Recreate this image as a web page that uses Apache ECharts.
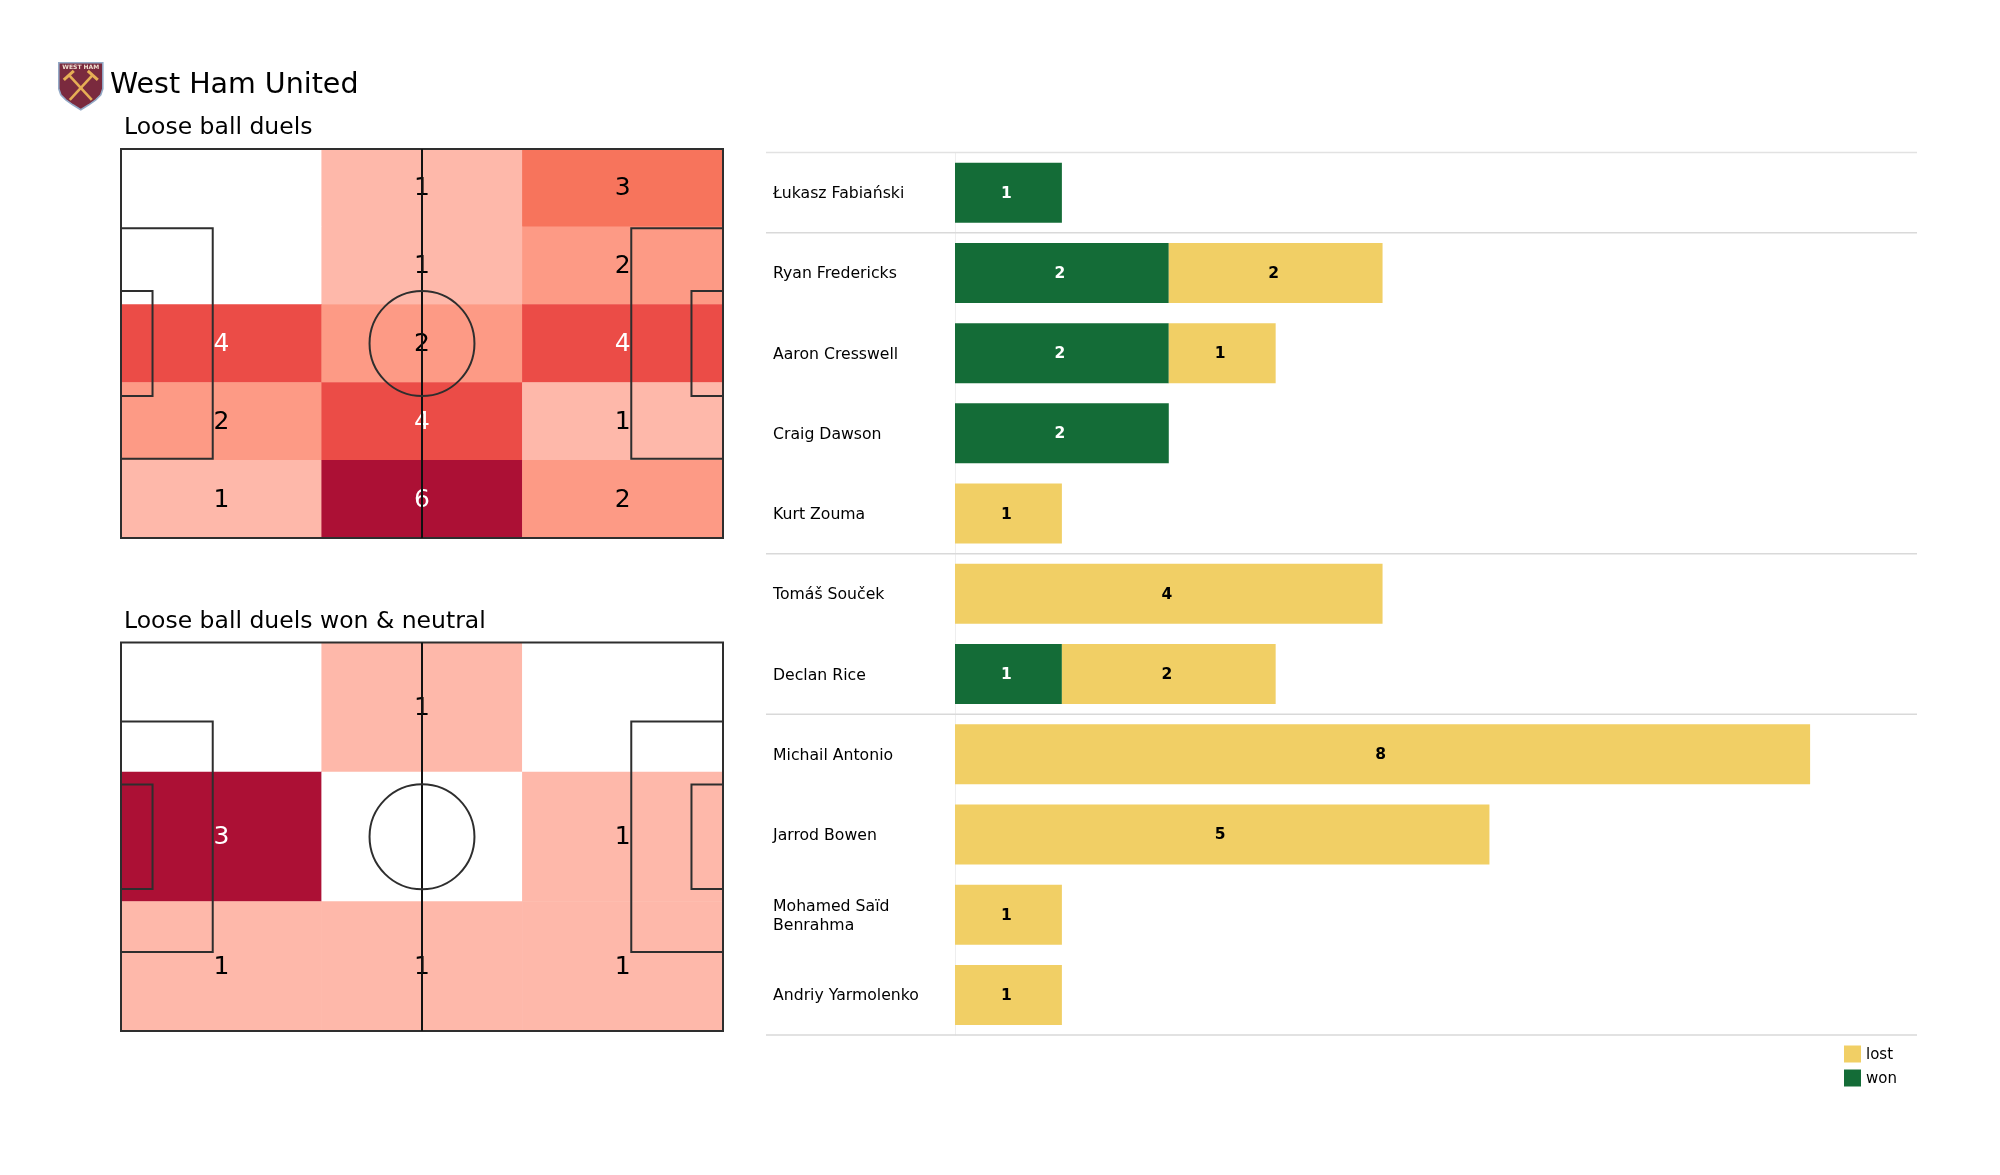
<!DOCTYPE html>
<html>
<head>
<meta charset="utf-8">
<style>html,body{margin:0;padding:0;background:#fff}#c{width:2000px;height:1175px}</style>
<script src="https://cdn.jsdelivr.net/npm/echarts@6/dist/echarts.min.js"></script>
</head>
<body>
<div id="c"></div>
<script>
const players = ['Łukasz Fabiański','Ryan Fredericks','Aaron Cresswell','Craig Dawson','Kurt Zouma','Tomáš Souček','Declan Rice','Michail Antonio','Jarrod Bowen','Mohamed Saïd\nBenrahma','Andriy Yarmolenko'];
const won  = [1,2,2,2,null,null,1,null,null,null,null];
const lost = [null,2,1,null,1,4,2,8,5,1,1];
const groupEnds = [0,4,6,10];

const duelsAll = [
  [0,1,3],
  [0,1,2],
  [4,2,4],
  [2,4,1],
  [1,6,2]
];
const duelsWon = [
  [0,1,0],
  [3,0,1],
  [1,1,1]
];
const paletteAll = {0:'#ffffff',1:'#feb8aa',2:'#fd9a85',3:'#f7745c',4:'#eb4c47',6:'#ac1035'};
const paletteWon = {0:'#ffffff',1:'#feb8aa',3:'#ac1035'};
const whiteLabelsAll = [4,6];
const whiteLabelsWon = [3];

const PITCH_W = 105, PITCH_H = 68;
const pitchRects = [
  [0,0,105,68],
  [0,13.84,16,54.16],
  [89,13.84,105,54.16],
  [0,24.84,5.5,43.16],
  [99.5,24.84,105,43.16]
];
const pitchSegments = [[52.5,0,52.5,68]];
const pitchCircles = [[52.5,34,9.15]];

const LINE = '#2e2e2e';
const FONT = '"DejaVu Sans"';

function heatData(rows, whites){
  const out = [];
  rows.forEach((r,ri)=>r.forEach((v,ci)=>{
    out.push({value:[ci,ri,v],label:{show:v>0,color:whites.includes(v)?'#ffffff':'#000000'}});
  }));
  return out;
}
function pieces(p){return Object.keys(p).map(k=>({value:+k,color:p[k]}));}
function heatSeries(g,rows,whites){
  return {type:'heatmap',xAxisIndex:g,yAxisIndex:g,data:heatData(rows,whites),z:2,
    label:{show:true,formatter:p=>p.value[2]>0?String(p.value[2]):'',fontFamily:FONT,fontSize:25,offset:[0,1]},
    emphasis:{disabled:true},itemStyle:{borderWidth:0}};
}
function pitchSeries(g){
  const items = [];
  pitchRects.forEach(r=>items.push(['rect',...r]));
  pitchSegments.forEach(s=>items.push(['seg',...s]));
  pitchCircles.forEach(c=>items.push(['circle',c[0],c[1],c[2],0]));
  const idx = items.map((_,i)=>[i]);
  return {type:'custom',xAxisIndex:g,yAxisIndex:g,data:idx,z:5,silent:true,clip:false,
    renderItem:(params,api)=>{
      const it = items[api.value(0)];
      const style = {stroke:LINE,fill:null,lineWidth:2};
      if(it[0]==='rect'){
        const a=api.coord([it[1],it[2]]),b=api.coord([it[3],it[4]]);
        return {type:'rect',shape:{x:Math.min(a[0],b[0]),y:Math.min(a[1],b[1]),width:Math.abs(b[0]-a[0]),height:Math.abs(b[1]-a[1])},style};
      }
      if(it[0]==='seg'){
        const a=api.coord([it[1],it[2]]),b=api.coord([it[3],it[4]]);
        return {type:'line',shape:{x1:a[0],y1:a[1],x2:b[0],y2:b[1]},style:{stroke:'#111',lineWidth:2}};
      }
      const c=api.coord([it[1],it[2]]),e=api.coord([it[1]+it[3],it[2]]);
      return {type:'circle',shape:{cx:c[0],cy:c[1],r:Math.abs(e[0]-c[0])},style};
    }};
}
const cat = n => Array.from({length:n},(_,i)=>String(i));
const hiddenCat = (g,n,inv)=>({type:'category',gridIndex:g,data:cat(n),show:false,inverse:!!inv});

const grids = [
  {left:121,top:149,width:602,height:389},
  {left:121,top:642.5,width:602,height:388.5},
  {left:121,top:149,width:602,height:389},
  {left:121,top:642.5,width:602,height:388.5},
  {left:955,top:152.6,width:962,height:882.4}
];
const labelStyle = {show:true,position:'inside',fontFamily:FONT,fontWeight:'bold',fontSize:15.5,offset:[-2,1]};

const crestHammer = (x1,y1,x2,y2)=>({type:'line',shape:{x1,y1,x2,y2},style:{stroke:'#e6ae55',lineWidth:2.6}});

const option = {
  animation:false,
  backgroundColor:'#ffffff',
  textStyle:{fontFamily:FONT},
  title:[
    {text:'West Ham United',left:110,top:71,textStyle:{fontFamily:FONT,fontSize:28.5,fontWeight:'normal',color:'#000'},padding:0},
    {text:'Loose ball duels',left:124,top:116,textStyle:{fontFamily:FONT,fontSize:23.5,fontWeight:'normal',color:'#000'},padding:0},
    {text:'Loose ball duels won & neutral',left:124,top:610,textStyle:{fontFamily:FONT,fontSize:23.5,fontWeight:'normal',color:'#000'},padding:0}
  ],
  grid:grids,
  xAxis:[
    hiddenCat(0,3),hiddenCat(1,3),
    {type:'value',gridIndex:2,min:0,max:PITCH_W,show:false},
    {type:'value',gridIndex:3,min:0,max:PITCH_W,show:false},
    {type:'value',gridIndex:4,min:0,max:9,show:false}
  ],
  yAxis:[
    hiddenCat(0,5,true),hiddenCat(1,3,true),
    {type:'value',gridIndex:2,min:0,max:PITCH_H,show:false,inverse:true},
    {type:'value',gridIndex:3,min:0,max:PITCH_H,show:false,inverse:true},
    {type:'category',gridIndex:4,data:players,inverse:true,
      axisTick:{show:false},
      axisLine:{show:true,lineStyle:{color:'#eeeeee',width:1}},
      axisLabel:{align:'left',margin:182,
        formatter:v=>v.split('\n').map(s=>'{a|'+s+'}').join('\n'),
        rich:{a:{fontFamily:FONT,fontSize:15.7,color:'#000',lineHeight:19,padding:[3,0,0,0]}}}}
  ],
  visualMap:[
    {type:'piecewise',show:false,seriesIndex:0,dimension:2,pieces:pieces(paletteAll)},
    {type:'piecewise',show:false,seriesIndex:1,dimension:2,pieces:pieces(paletteWon)}
  ],
  legend:{orient:'vertical',left:1844,top:1045,itemWidth:17,itemHeight:17,itemGap:6,padding:0,
    data:[{name:'lost',icon:'rect'},{name:'won',icon:'rect'}],
    formatter:'{a|{name}}',
    textStyle:{rich:{a:{fontFamily:FONT,fontSize:15,color:'#000',lineHeight:15,padding:[3,0,0,0]}}},selectedMode:false},
  series:[
    heatSeries(0,duelsAll,whiteLabelsAll),
    heatSeries(1,duelsWon,whiteLabelsWon),
    pitchSeries(2),
    pitchSeries(3),
    {type:'bar',name:'won',stack:'d',xAxisIndex:4,yAxisIndex:4,data:won,barWidth:60,
      itemStyle:{color:'#146c37'},label:{...labelStyle,color:'#ffffff'},emphasis:{disabled:true}},
    {type:'bar',name:'lost',stack:'d',xAxisIndex:4,yAxisIndex:4,data:lost,barWidth:60,
      itemStyle:{color:'#f1cf65'},label:{...labelStyle,color:'#000000'},emphasis:{disabled:true}},
    {type:'custom',xAxisIndex:4,yAxisIndex:4,silent:true,clip:false,z:1,data:groupEnds.map(i=>[i]),
      renderItem:(params,api)=>{
        const i=api.value(0);
        const p=api.coord([0,i]);
        const q=api.coord([9,i]);
        const band=api.size([0,1])[1];
        const y=p[1]+band/2;
        const first=params.dataIndex===0;
        return {type:'group',children:[
          {type:'line',shape:{x1:p[0]-189,y1:y,x2:q[0],y2:y},style:{stroke:'#d9d9d9',lineWidth:1.5}}
        ].concat(first?[{type:'line',shape:{x1:p[0]-189,y1:y-band,x2:q[0],y2:y-band},style:{stroke:'#e2e2e2',lineWidth:1.5}}]:[])};
      }}
  ],
  graphic:[
    {type:'group',left:58,top:62,children:[
      {type:'polygon',shape:{points:[[0,1],[44,1],[44,27],[42,33],[37,38],[30,43],[22,48],[14,43],[7,38],[2,33],[0,27]]},
        style:{fill:'#7a2a3e',stroke:'#93a9c6',lineWidth:1.6}},
      crestHammer(10,13,33,38),
      crestHammer(34,13,11,38),
      {type:'line',shape:{x1:5,y1:18,x2:15,y2:9},style:{stroke:'#e6ae55',lineWidth:3}},
      {type:'line',shape:{x1:29,y1:9,x2:39,y2:18},style:{stroke:'#e6ae55',lineWidth:3}},
      {type:'text',style:{x:22,y:3,text:'WEST HAM',align:'center',fill:'#f0dfd0',font:'bold 6px "DejaVu Sans"'}}
    ]}
  ]
};
const chart = echarts.init(document.getElementById('c'),null,{renderer:'canvas'});
chart.setOption(option);
</script>
</body>
</html>
